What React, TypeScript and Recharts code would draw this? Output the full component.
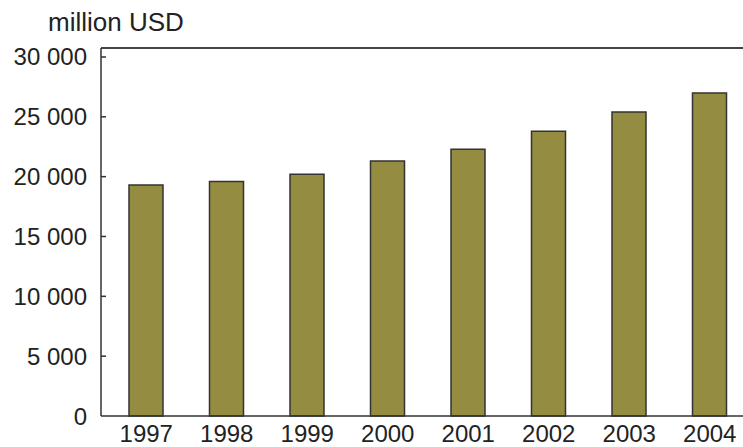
import { BarChart, Bar, XAxis, YAxis, ReferenceLine } from 'recharts'

const years = ['1997', '1998', '1999', '2000', '2001', '2002', '2003', '2004']
const values = [19300, 19600, 20200, 21300, 22300, 23800, 25400, 27000]
const yTicks = [0, 5000, 10000, 15000, 20000, 25000, 30000]
const yMax = 30750
const unitLabel = 'million USD'

const data = years.map((year, i) => ({ year, value: values[i] }))

const font = '"Liberation Sans", Arial, sans-serif'
const ink = '#222'

const fmt = (v: number) => String(v).replace(/\B(?=(\d{3})+(?!\d))/g, ' ')

function YTick({ x, y, payload }: any) {
  return (
    <g>
      <text x={x} y={y} dy="0.355em" textAnchor="end" fill={ink} fontSize={24} fontFamily={font}>
        {fmt(payload.value)}
      </text>
      {payload.value !== 0 && <line x1={x + 14} x2={x + 19} y1={y} y2={y} stroke="#333" strokeWidth={1.5} />}
    </g>
  )
}

export default function App() {
  return (
    <div style={{ position: 'absolute', left: 0, top: 0, width: 743, height: 447, overflow: 'hidden', background: '#fff' }}>
      <div style={{ position: 'absolute', left: 48, top: 7, fontFamily: font, fontSize: 26, color: ink, lineHeight: '30px' }}>
        {unitLabel}
      </div>
      <BarChart width={760} height={447} data={data} margin={{ top: 48, right: 10, bottom: 0, left: 0 }}>
        <XAxis
          dataKey="year"
          padding={{ left: 5, right: 0 }}
          tickLine={false}
          tickSize={0}
          tickMargin={9}
          height={31}
          axisLine={{ stroke: '#333', strokeWidth: 1.5 }}
          tick={{ fill: ink, fontSize: 24, fontFamily: font }}
          interval={0}
        />
        <YAxis
          width={101}
          domain={[0, yMax]}
          ticks={yTicks}
          tickLine={false}
          tickSize={0}
          tickMargin={14}
          axisLine={{ stroke: '#333', strokeWidth: 1.5 }}
          tick={<YTick />}
          interval={0}
        />
        <ReferenceLine y={yMax} stroke="#444" strokeWidth={2} />
        <Bar dataKey="value" fill="#948c40" stroke="#333" strokeWidth={1.5} barSize={34} isAnimationActive={false} />
      </BarChart>
    </div>
  )
}
